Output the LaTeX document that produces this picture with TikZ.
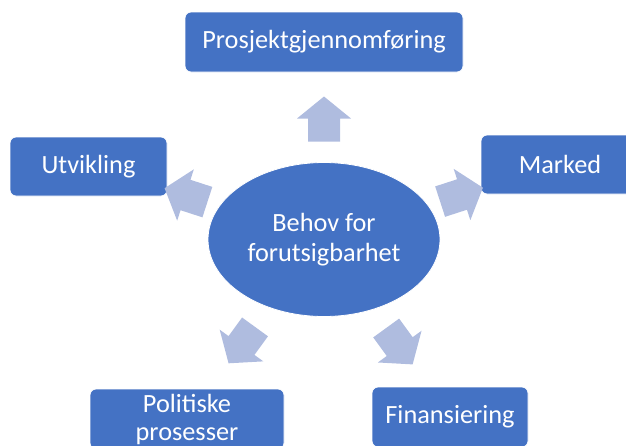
\documentclass[tikz,border=0pt]{standalone}
\usepackage{fontspec}
\setmainfont{Carlito}
\usetikzlibrary{shapes.geometric}
\definecolor{boxblue}{HTML}{4472C4}
\definecolor{arrowblue}{HTML}{AFBCDF}
\tikzset{
  itembox/.style={rectangle, rounded corners=6pt, fill=boxblue, draw=white, line width=0.8pt,
    text=white, font=\fontsize{26.3}{28}\selectfont, align=center, inner sep=0pt},
  centre/.style={ellipse, fill=boxblue, draw=white, line width=0.8pt, text=white,
    font=\fontsize{26.3}{30}\selectfont, align=center, minimum width=232pt, minimum height=154pt, inner sep=0pt},
  pics/blockarrow/.style={code={
    \fill[arrowblue] (-23,-16) -- (0,-16) -- (0,-27) -- (22,0) -- (0,27) -- (0,16) -- (-23,16) -- cycle;
  }}
}
\begin{document}
\begin{tikzpicture}[x=1pt,y=-1pt]
\useasboundingbox (0,0) rectangle (626,445);
\node[centre] (c) at (324,239.5) {Behov for\\forutsigbarhet};
\node[itembox, minimum width=278pt, minimum height=60pt] (top) at (324,42) {Prosjektgjennomføring};
\node[itembox, minimum width=157pt, minimum height=59pt] (utv) at (88.5,166.5) {Utvikling};
\node[itembox, minimum width=158pt, minimum height=59pt] (mark) at (560,164.5) {Marked};
\node[itembox, minimum width=194pt, minimum height=60pt] (pol) at (187,419) {Politiske\\prosesser};
\node[itembox, minimum width=156pt, minimum height=60pt] (fin) at (450,417) {Finansiering};
\pic[rotate=90] (a1) at (324,118.5) {blockarrow};
\pic[rotate=18] (a2) at (462,194.5) {blockarrow};
\pic[rotate=162] (a3) at (185.5,195) {blockarrow};
\pic[rotate=-126] (a4) at (241.5,345.5) {blockarrow};
\pic[rotate=-54] (a5) at (399.7,346.6) {blockarrow};
\end{tikzpicture}
\end{document}
